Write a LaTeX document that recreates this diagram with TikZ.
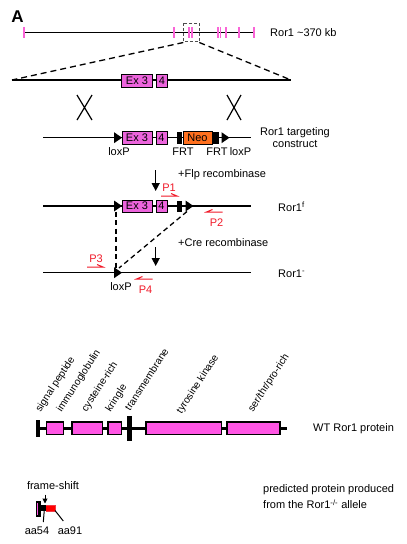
\documentclass[tikz,border=0pt]{standalone}
\usepackage{fontspec}
\setmainfont{Liberation Sans}
\usetikzlibrary{arrows.meta}
\definecolor{exon}{RGB}{236,100,220}
\definecolor{prot}{RGB}{255,85,228}
\definecolor{tick}{RGB}{250,100,215}
\definecolor{neo}{RGB}{255,112,30}
\definecolor{primer}{RGB}{240,25,40}
\begin{document}
\begin{tikzpicture}[x=1pt,y=-1pt,
  dna/.style={line width=1.5pt},
  lab/.style={inner sep=0pt,font=\fontsize{11}{13}\selectfont},
  rlab/.style={inner sep=0pt,font=\fontsize{10.2}{12}\selectfont,rotate=57,anchor=base west},
  exonbox/.style={draw,line width=0.7pt,fill=exon,inner sep=0pt,minimum height=13pt,font=\fontsize{11}{13}\selectfont},
  protbox/.style={draw,line width=1.3pt,fill=prot},
  tickmark/.style={tick,line width=1.8pt},
  zoomline/.style={line width=1.3pt,dash pattern=on 6pt off 4pt},
  recomb/.style={line width=1.3pt,dash pattern=on 5pt off 3.5pt},
  downarrow/.style={line width=1.4pt,-{Triangle[width=8pt,length=8pt]}},
  primerR/.pic={\draw[primer,line width=1pt] (-8,0) -- (8,0) -- (2,-2.5);},
  primerL/.pic={\draw[primer,line width=1pt] (8,0) -- (-8,0) -- (-2,-2.5);},
  loxp/.pic={\fill (-4,-5.5) -- (4,0) -- (-4,5.5) -- cycle;},
  plab/.style={inner sep=0pt,text=primer,font=\fontsize{11}{13}\selectfont}
]
\useasboundingbox (0,0) rectangle (407,544);

% panel label
\node[inner sep=0pt,font=\fontsize{17}{19}\bfseries\selectfont] (A) at (17.5,16.5) {A};

% genomic locus
\coordinate (g1) at (24,32.5);
\coordinate (g2) at (254,32.5);
\draw[dna] (g1) -- (g2);
\foreach \x in {24,174.3,189.3,192.3,217.7,220.5,226,239.3,254}
  \draw[tickmark] (\x,27.3) -- (\x,38.3);
\draw[line width=0.6pt,dash pattern=on 3pt off 2pt,black!70] (183.3,23.3) rectangle (199.3,41.7);
\node[lab,anchor=west] (locus) at (270,33) {Ror1 \textasciitilde370 kb};

% zoomed region
\coordinate (zl) at (12,80);
\coordinate (zr) at (291,80);
\coordinate (bl) at (183.3,42.5);
\coordinate (br) at (199.3,42.5);
\draw[zoomline] (bl) -- (zl);
\draw[zoomline] (br) -- (zr);
\draw[dna] (zl) -- (zr);
\node[exonbox,minimum width=30.6pt] (e3a) at (137,80.5) {Ex 3};
\node[exonbox,minimum width=10.6pt] (e4a) at (162,80.5) {4};

% crossover marks
\draw[line width=1.2pt] (77,95) -- (92,120) (92,95) -- (77,120);
\draw[line width=1.2pt] (227,95) -- (241,120) (241,95) -- (227,120);

% targeting construct
\coordinate (t1) at (43,137.7);
\coordinate (t2) at (251,137.7);
\draw[dna] (t1) -- (t2);
\pic at (118,137.7) {loxp};
\node[exonbox,minimum width=30pt] (e3b) at (137,137.5) {Ex 3};
\node[exonbox,minimum width=11pt] (e4b) at (161.5,137.5) {4};
\fill (176.7,132) rectangle (182,143.5);
\node[exonbox,fill=neo,minimum width=29pt] (neo) at (197.5,137.5) {Neo};
\fill (213,132) rectangle (219,143.5);
\pic at (225.5,137.7) {loxp};
\node[lab] (lx1) at (119,151.5) {loxP};
\node[lab] (frt1) at (183,151.5) {FRT};
\node[lab] (frt2) at (217,151.5) {FRT};
\node[lab] (lx2) at (240.5,151.5) {loxP};
\node[lab,align=center,font=\fontsize{11}{11.5}\selectfont] (tc) at (295,137.5) {Ror1 targeting\\construct};

% Flp step
\coordinate (fa1) at (155.7,170);
\coordinate (fa2) at (155.7,191);
\draw[downarrow] (fa1) -- (fa2);
\node[lab,anchor=west] (flp) at (178,174.5) {+Flp recombinase};
\node[plab] (p1) at (169,187.5) {P1};
\pic at (169,196) {primerR};

% Ror1 flox
\coordinate (f1) at (43,206);
\coordinate (f2) at (251,206);
\draw[dna] (f1) -- (f2);
\pic at (118,206) {loxp};
\node[exonbox,minimum width=30pt,minimum height=12pt] (e3c) at (137,206) {Ex 3};
\node[exonbox,minimum width=11pt,minimum height=12pt] (e4c) at (161.5,206) {4};
\fill (177,200.5) rectangle (182,211.5);
\pic at (189.5,206) {loxp};
\node[lab,anchor=west] (rf) at (278,207) {Ror1\textsuperscript{f}};
\pic at (214.5,212) {primerL};
\node[plab] (p2) at (216.5,223) {P2};

% Cre step
\coordinate (d1) at (116,211.5);
\coordinate (d2) at (116,268);
\coordinate (d3) at (187,211.5);
\coordinate (d4) at (119,268);
\draw[recomb] (d1) -- (d2);
\draw[recomb] (d3) -- (d4);
\node[lab,anchor=west] (cre) at (178,243) {+Cre recombinase};
\coordinate (ca1) at (155.7,247);
\coordinate (ca2) at (155.7,266);
\draw[downarrow] (ca1) -- (ca2);

% Ror1 null
\coordinate (n1) at (43,272.7);
\coordinate (n2) at (251,272.7);
\draw[dna] (n1) -- (n2);
\pic at (118,272.7) {loxp};
\node[lab] (lx3) at (121,286.5) {loxP};
\node[lab,anchor=west] (rn) at (278,273.5) {Ror1\textsuperscript{-}};
\node[plab] (p3) at (96,259) {P3};
\pic at (95,267) {primerR};
\pic at (144.5,279) {primerL};
\node[plab] (p4) at (145.5,289.5) {P4};

% WT protein
\coordinate (w1) at (37,428.3);
\coordinate (w2) at (287,428.3);
\draw[line width=3pt] (w1) -- (w2);
\fill (35.5,420) rectangle (40,436.5);
\draw[protbox] (46.7,422) rectangle (63.3,434.5);
\draw[protbox] (72,422) rectangle (102.7,434.5);
\draw[protbox] (108,422) rectangle (121.7,434.5);
\fill (126.7,416) rectangle (131.7,440.7);
\draw[protbox] (146,422) rectangle (221.7,434.5);
\draw[protbox] (227,422) rectangle (280,434.5);
\node[rlab] (l1) at (40.5,412.5) {signal peptide};
\node[rlab] (l2) at (61.5,412.5) {immunoglobulin};
\node[rlab] (l3) at (86.5,412.5) {cysteine-rich};
\node[rlab] (l4) at (110.5,412.5) {kringle};
\node[rlab] (l5) at (130,411.5) {transmembrane};
\node[rlab] (l6) at (181.5,414.5) {tyrosine kinase};
\node[rlab] (l7) at (253,412.5) {ser/thr/pro-rich};
\node[lab,anchor=west] (wt) at (313,429) {WT Ror1 protein};

% truncated protein
\node[lab] (fs) at (53,486) {frame-shift};
\coordinate (fsa1) at (45,494.5);
\coordinate (fsa2) at (45,503.5);
\draw[line width=1pt,-{Triangle[width=5pt,length=5pt]}] (fsa1) -- (fsa2);
\fill (36,501) rectangle (40.5,517);
\fill[prot] (37,503) rectangle (38.2,515);
\fill (40.5,505) rectangle (46,511);
\fill[primer!80!pink] (46,504.5) rectangle (55.5,511.5);
\fill[red] (46,505.5) rectangle (54.5,510.5);
\node[lab] (aa54) at (37,530.5) {aa54};
\node[lab] (aa91) at (70,530.5) {aa91};
\coordinate (c54) at (44.3,510);
\coordinate (c91) at (55,510.5);
\draw[line width=1pt] (c54) -- (43.3,522);
\draw[line width=1pt] (c91) -- (63.3,521);
\node[lab,anchor=north west,align=left,font=\fontsize{11}{16.3}\selectfont] (pred) at (263,484.5) {predicted protein produced\\from the Ror1\textsuperscript{-/-} allele};
\end{tikzpicture}
\end{document}
